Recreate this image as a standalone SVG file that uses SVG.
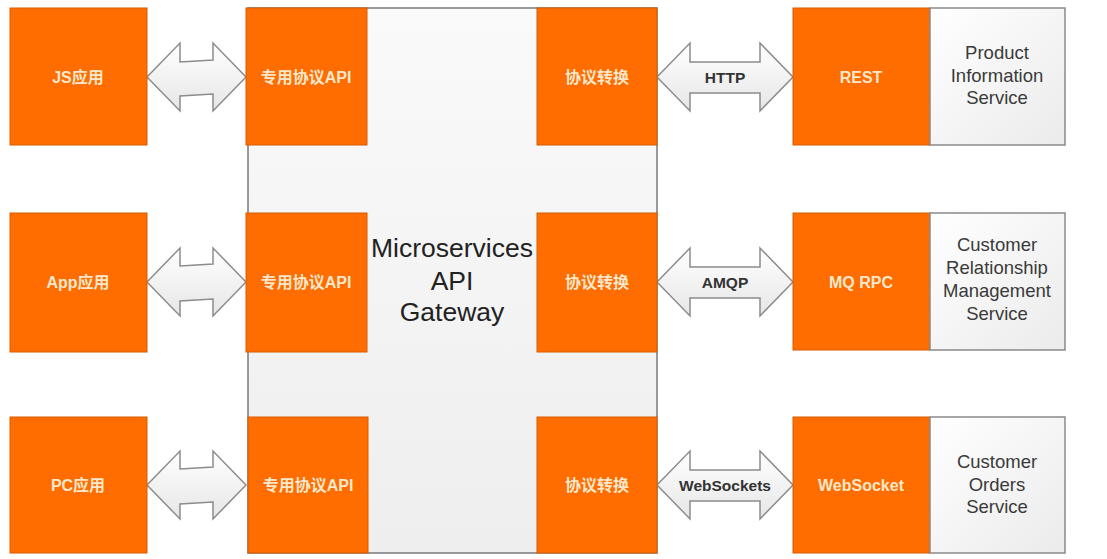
<svg xmlns="http://www.w3.org/2000/svg" width="1107" height="559" viewBox="0 0 1107 559">
<defs>
<linearGradient id="gw" x1="0" y1="0" x2="0" y2="1"><stop offset="0" stop-color="#fafafa"/><stop offset="1" stop-color="#eeeeee"/></linearGradient>
<linearGradient id="sv" x1="0" y1="0" x2="1" y2="1"><stop offset="0" stop-color="#ffffff"/><stop offset="1" stop-color="#ebebeb"/></linearGradient>
<linearGradient id="ar" x1="0" y1="0" x2="0" y2="1"><stop offset="0" stop-color="#ffffff"/><stop offset="1" stop-color="#e6e6e6"/></linearGradient>
<style>
.or{fill:#ff6c00;stroke:#d65c00;stroke-width:1}
.ot{fill:#fbe8cc;font-family:"Liberation Sans","Noto Sans CJK SC",sans-serif;font-size:16px;font-weight:bold;text-anchor:middle;dominant-baseline:central}
.sv{fill:url(#sv);stroke:#8a8a8a;stroke-width:1.5}
.st{fill:#3a3a3a;font-family:"Liberation Sans",sans-serif;font-size:18.5px;text-anchor:middle}
.ar{fill:url(#ar);stroke:#8c8c8c;stroke-width:1.5;stroke-linejoin:miter}
.at{fill:#333;font-family:"Liberation Sans",sans-serif;font-size:15.5px;font-weight:bold;text-anchor:middle;dominant-baseline:central}
.gt{fill:#222;font-family:"Liberation Sans",sans-serif;font-size:26.5px;text-anchor:middle}
</style>
</defs>
<rect width="1107" height="559" fill="#ffffff"/>
<g id="gateway">
<rect x="248" y="8" width="409" height="545" fill="url(#gw)" stroke="#7a7a7a" stroke-width="1.5"/>
<text class="gt" x="452" y="257">Microservices</text>
<text class="gt" x="452" y="290">API</text>
<text class="gt" x="452" y="321">Gateway</text>
</g>
<g id="connectors">
<path class="ar" d="M147,77 L180,43 L180,62 L213,60 L213,43 L246,77 L213,111 L213,94 L180,96 L180,111 Z"/>
<path class="ar" d="M147,282 L180,248 L180,266 L213,264 L213,248 L246,282 L213,316 L213,299 L180,301 L180,316 Z"/>
<path class="ar" d="M147,485 L180,451 L180,469 L213,467 L213,451 L246,485 L213,519 L213,502 L180,504 L180,519 Z"/>
<path class="ar" d="M657,77 L690,43 L690,62 L760,62 L760,43 L793,77 L760,111 L760,93 L690,93 L690,111 Z"/>
<text class="at" x="725" y="77">HTTP</text>
<path class="ar" d="M657,282 L690,248 L690,267 L760,267 L760,248 L793,282 L760,316 L760,298 L690,298 L690,316 Z"/>
<text class="at" x="725" y="282">AMQP</text>
<path class="ar" d="M657,485 L690,451 L690,470 L760,470 L760,451 L793,485 L760,519 L760,501 L690,501 L690,519 Z"/>
<text class="at" x="725" y="485">WebSockets</text>
</g>
<g id="js"><rect class="or" x="10" y="8" width="137" height="137"/><text class="ot" x="78" y="77">JS应用</text></g>
<g id="app"><rect class="or" x="10" y="213" width="137" height="139"/><text class="ot" x="78" y="282">App应用</text></g>
<g id="pc"><rect class="or" x="10" y="417" width="137" height="136"/><text class="ot" x="78" y="485">PC应用</text></g>
<g id="api1"><rect class="or" x="246" y="8" width="121" height="137"/><text class="ot" x="306" y="77">专用协议API</text></g>
<g id="api2"><rect class="or" x="246" y="213" width="121" height="139"/><text class="ot" x="306" y="282">专用协议API</text></g>
<g id="api3"><rect class="or" x="248" y="417" width="120" height="136"/><text class="ot" x="308" y="485">专用协议API</text></g>
<g id="conv1"><rect class="or" x="537" y="8" width="120" height="137"/><text class="ot" x="597" y="77">协议转换</text></g>
<g id="conv2"><rect class="or" x="537" y="213" width="120" height="139"/><text class="ot" x="597" y="282">协议转换</text></g>
<g id="conv3"><rect class="or" x="537" y="417" width="120" height="136"/><text class="ot" x="597" y="485">协议转换</text></g>
<g id="rest"><rect class="or" x="793" y="8" width="137" height="137"/><text class="ot" x="861" y="77">REST</text></g>
<g id="mqrpc"><rect class="or" x="793" y="213" width="137" height="137"/><text class="ot" x="861" y="282">MQ RPC</text></g>
<g id="websocket"><rect class="or" x="793" y="417" width="137" height="136"/><text class="ot" x="861" y="485">WebSocket</text></g>
<g id="product"><rect class="sv" x="930" y="8" width="135" height="137"/>
<text class="st" x="997" y="59">Product</text><text class="st" x="997" y="82">Information</text><text class="st" x="997" y="104">Service</text></g>
<g id="crm"><rect class="sv" x="930" y="213" width="135" height="137"/>
<text class="st" x="997" y="251">Customer</text><text class="st" x="997" y="274">Relationship</text><text class="st" x="997" y="297">Management</text><text class="st" x="997" y="320">Service</text></g>
<g id="orders"><rect class="sv" x="930" y="417" width="135" height="136"/>
<text class="st" x="997" y="468">Customer</text><text class="st" x="997" y="491">Orders</text><text class="st" x="997" y="513">Service</text></g>
</svg>
